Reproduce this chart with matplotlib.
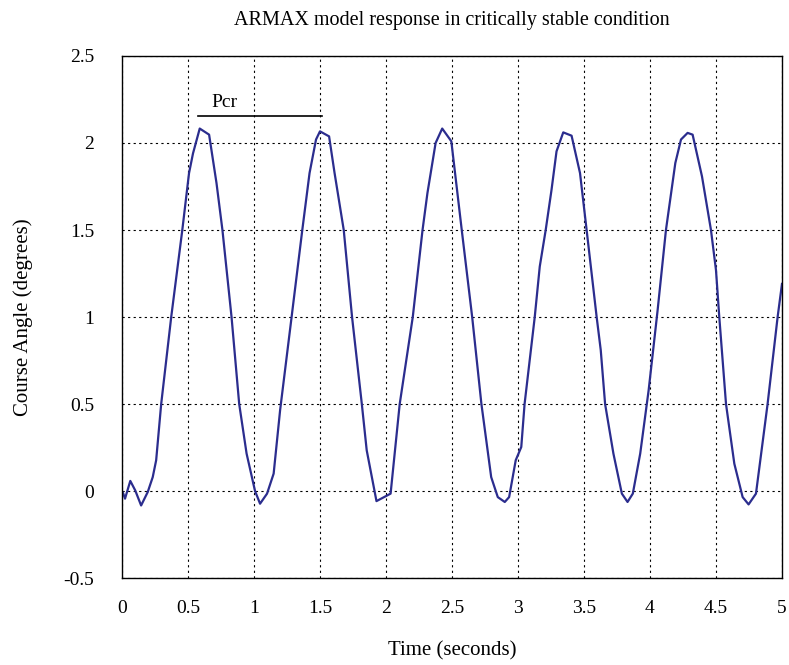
import matplotlib.pyplot as plt

# Course angle response
time_s = [0.0, 0.01, 0.023, 0.063, 0.10, 0.145, 0.195, 0.233, 0.259, 0.297, 0.373, 0.457,
          0.508, 0.538, 0.589, 0.66, 0.716, 0.761, 0.83, 0.888, 0.944, 1.008, 1.046,
          1.099, 1.149, 1.198, 1.285, 1.366, 1.421, 1.47, 1.50, 1.569, 1.61, 1.68, 1.743,
          1.817, 1.854, 1.928, 1.998, 2.035, 2.104, 2.203, 2.277, 2.314, 2.376, 2.426,
          2.495, 2.574, 2.653, 2.723, 2.797, 2.847, 2.90, 2.933, 2.983, 3.025, 3.05,
          3.127, 3.165, 3.21, 3.254, 3.292, 3.343, 3.406, 3.47, 3.52, 3.596, 3.627, 3.66,
          3.723, 3.787, 3.83, 3.87, 3.926, 3.99, 4.058, 4.121, 4.192, 4.235, 4.285,
          4.323, 4.394, 4.462, 4.50, 4.525, 4.576, 4.639, 4.702, 4.747, 4.803, 4.891,
          4.967, 5.0]
angle_deg = [0.0, -0.015, -0.044, 0.058, 0.004, -0.083, -0.006, 0.08, 0.177, 0.5, 1.0, 1.5,
             1.827, 1.94, 2.083, 2.048, 1.77, 1.5, 1.0, 0.5, 0.215, 0.0, -0.073,
             -0.015, 0.1, 0.465, 1.0, 1.5, 1.827, 2.02, 2.067, 2.038, 1.83, 1.5, 1.0,
             0.5, 0.234, -0.058, -0.03, -0.015, 0.5, 1.0, 1.5, 1.712, 2.0, 2.083,
             2.01, 1.5, 1.0, 0.5, 0.08, -0.035, -0.063, -0.035, 0.177, 0.253, 0.5,
             1.0, 1.29, 1.5, 1.73, 1.952, 2.061, 2.042, 1.827, 1.5, 1.0, 0.81, 0.5,
             0.215, -0.015, -0.063, -0.015, 0.215, 0.58, 1.04, 1.5, 1.885, 2.02, 2.058,
             2.048, 1.808, 1.5, 1.27, 1.0, 0.5, 0.157, -0.035, -0.077, -0.015, 0.5,
             1.0, 1.19]

# critical period marker
pcr_start, pcr_end, pcr_level = 0.575, 1.513, 2.155
pcr_label_x = 0.78

xticks = [0, 0.5, 1, 1.5, 2, 2.5, 3, 3.5, 4, 4.5, 5]
yticks = [-0.5, 0, 0.5, 1, 1.5, 2, 2.5]

plt.rcParams['font.family'] = ['Liberation Serif', 'DejaVu Serif']

fig = plt.figure(figsize=(7.89, 6.65), dpi=100)
ax = fig.add_axes([0.1546, 0.1308, 0.8365, 0.785])

ax.plot(time_s, angle_deg, color='#2B2D8E', linewidth=1.6)
ax.plot([pcr_start, pcr_end], [pcr_level, pcr_level], color='black', linewidth=1.2)
ax.text(pcr_label_x, pcr_level + 0.03, 'Pcr', fontsize=14, ha='center', va='bottom')

ax.set_xlim(0, 5)
ax.set_ylim(-0.5, 2.5)
ax.set_xticks(xticks)
ax.set_yticks(yticks)
ax.set_xticklabels([f'{t:g}' for t in xticks])
ax.set_yticklabels([f'{t:g}' for t in yticks])
ax.tick_params(length=0, labelsize=14)
ax.tick_params(axis='x', pad=16)
ax.tick_params(axis='y', pad=20)
ax.grid(True, color='black', linestyle=(0, (2, 3)), linewidth=0.8)
for s in ax.spines.values():
    s.set_linewidth(1.0)

ax.set_title('ARMAX model response in critically stable condition', fontsize=14.5, pad=22)
ax.set_xlabel('Time (seconds)', fontsize=15, labelpad=17)
ax.set_ylabel('Course Angle (degrees)', fontsize=15, labelpad=22)

fig.savefig('out.png', dpi=100)
